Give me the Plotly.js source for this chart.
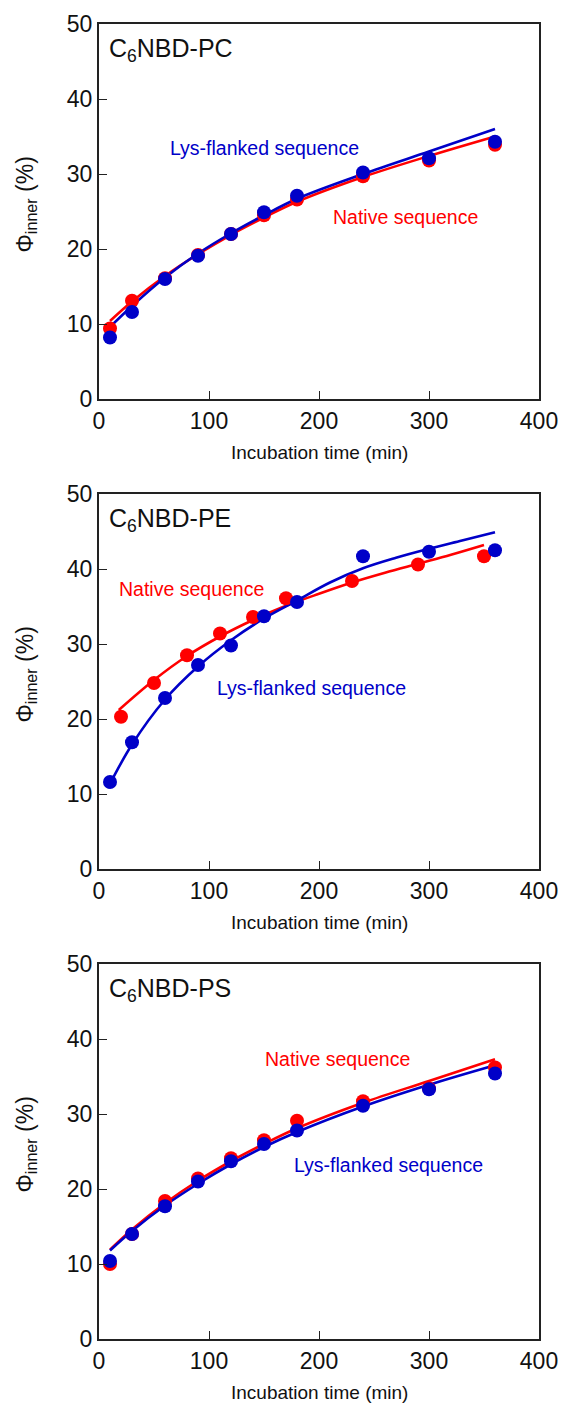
<!DOCTYPE html>
<html>
<head>
<meta charset="utf-8">
<script src="https://cdn.plot.ly/plotly-3.0.1.min.js"></script>
<style>
html,body{margin:0;padding:0;background:#fff;}
#chart{width:561px;height:1408px;}
</style>
</head>
<body>
<div id="chart"></div>
<script>
// ---- Data ----
const panelNames = ["C<sub>6</sub>NBD-PC", "C<sub>6</sub>NBD-PE", "C<sub>6</sub>NBD-PS"];
const xTitle = "Incubation time (min)";
const yTitle = "Φ<sub>inner</sub> (%)";
const nativeLabel = "Native sequence";
const lysLabel = "Lys-flanked sequence";

// PC
const pcNativeT = [10, 30, 60, 90, 120, 150, 180, 240, 300, 360];
const pcNativeY = [9.4, 13.1, 16.1, 19.2, 22.0, 24.5, 26.6, 29.7, 31.8, 33.9];
const pcLysT = [10, 30, 60, 90, 120, 150, 180, 240, 300, 360];
const pcLysY = [8.2, 11.6, 16.0, 19.1, 22.0, 24.9, 27.1, 30.2, 32.1, 34.3];
const pcNativeFitT = [10, 30, 60, 90, 120, 150, 180, 240, 300, 360];
const pcNativeFitY = [10.4, 13.0, 16.4, 19.3, 21.9, 24.2, 26.3, 29.6, 32.4, 35.0];
const pcLysFitT = [10, 30, 60, 90, 120, 150, 180, 240, 300, 360];
const pcLysFitY = [9.6, 12.4, 16.2, 19.4, 22.1, 24.5, 26.7, 30.0, 33.0, 36.0];

// PE
const peNativeT = [20, 50, 80, 110, 140, 170, 230, 290, 350];
const peNativeY = [20.3, 24.8, 28.5, 31.4, 33.6, 36.1, 38.4, 40.6, 41.7];
const peLysT = [10, 30, 60, 90, 120, 150, 180, 240, 300, 360];
const peLysY = [11.6, 16.9, 22.8, 27.2, 29.8, 33.7, 35.6, 41.7, 42.3, 42.5];
const peNativeFitT = [18, 50, 80, 110, 140, 170, 200, 230, 260, 290, 320, 350];
const peNativeFitY = [21.2, 25.2, 28.4, 31.0, 33.2, 35.1, 36.7, 38.2, 39.5, 40.7, 41.9, 43.2];
const peLysFitT = [8, 30, 60, 90, 120, 150, 180, 210, 240, 270, 300, 330, 360];
const peLysFitY = [10.8, 16.6, 22.6, 27.0, 30.5, 33.4, 35.8, 38.2, 40.1, 41.5, 42.7, 43.8, 44.9];

// PS
const psNativeT = [10, 30, 60, 90, 120, 150, 180, 240, 300, 360];
const psNativeY = [10.0, 14.0, 18.4, 21.4, 24.1, 26.5, 29.1, 31.7, 33.4, 36.2];
const psLysT = [10, 30, 60, 90, 120, 150, 180, 240, 300, 360];
const psLysY = [10.4, 14.0, 17.7, 21.0, 23.7, 26.0, 27.8, 31.1, 33.3, 35.4];
const psNativeFitT = [10, 30, 60, 90, 120, 150, 180, 240, 300, 360];
const psNativeFitY = [11.9, 14.6, 18.1, 21.1, 23.7, 26.0, 28.1, 31.5, 34.4, 37.3];
const psLysFitT = [10, 30, 60, 90, 120, 150, 180, 240, 300, 360];
const psLysFitY = [11.8, 14.4, 17.8, 20.7, 23.3, 25.6, 27.6, 31.0, 33.9, 36.5];

const xTickVals = [0, 100, 200, 300, 400];
const yTickVals = [0, 10, 20, 30, 40, 50];

// ---- Styling / layout ----
const W = 561, H = 1408;
const RED = "#ff0000", BLUE = "#0000c8";
const FONT = "Liberation Sans, Arial, sans-serif";
const px = v => v / W;
const py = v => 1 - v / H;

const panels = [
  {top: 24, bottom: 399,
   nT: pcNativeT, nY: pcNativeY, lT: pcLysT, lY: pcLysY,
   nfT: pcNativeFitT, nfY: pcNativeFitY, lfT: pcLysFitT, lfY: pcLysFitY,
   nLab: [331, 217], lLab: [168, 148]},
  {top: 494, bottom: 869,
   nT: peNativeT, nY: peNativeY, lT: peLysT, lY: peLysY,
   nfT: peNativeFitT, nfY: peNativeFitY, lfT: peLysFitT, lfY: peLysFitY,
   nLab: [117, 589], lLab: [215, 688]},
  {top: 964, bottom: 1339,
   nT: psNativeT, nY: psNativeY, lT: psLysT, lY: psLysY,
   nfT: psNativeFitT, nfY: psNativeFitY, lfT: psLysFitT, lfY: psLysFitY,
   nLab: [263, 1059], lLab: [292, 1165]}
];

const traces = [];
const layout = {
  width: W, height: H,
  margin: {l: 0, r: 0, t: 0, b: 0},
  paper_bgcolor: "#fff", plot_bgcolor: "#fff",
  showlegend: false,
  font: {family: FONT, color: "#111"},
  annotations: []
};

panels.forEach((p, i) => {
  const xa = i === 0 ? "x" : "x" + (i + 1);
  const ya = i === 0 ? "y" : "y" + (i + 1);
  const xk = i === 0 ? "xaxis" : "xaxis" + (i + 1);
  const yk = i === 0 ? "yaxis" : "yaxis" + (i + 1);
  traces.push({x: p.nfT, y: p.nfY, xaxis: xa, yaxis: ya, mode: "lines",
    line: {color: RED, width: 2.6, shape: "spline"}, hoverinfo: "skip"});
  traces.push({x: p.lfT, y: p.lfY, xaxis: xa, yaxis: ya, mode: "lines",
    line: {color: BLUE, width: 2.6, shape: "spline"}, hoverinfo: "skip"});
  traces.push({x: p.nT, y: p.nY, xaxis: xa, yaxis: ya, mode: "markers",
    marker: {color: RED, size: 14}, hoverinfo: "skip"});
  traces.push({x: p.lT, y: p.lY, xaxis: xa, yaxis: ya, mode: "markers",
    marker: {color: BLUE, size: 14}, hoverinfo: "skip"});

  layout[xk] = {
    domain: [px(99), px(539)], anchor: ya, range: [0, 400],
    tickvals: xTickVals, ticks: "inside", ticklen: 8, tickwidth: 1, tickcolor: "#222",
    showline: true, linecolor: "#222", linewidth: 2, mirror: true,
    showgrid: false, zeroline: false, fixedrange: true,
    tickfont: {size: 23, family: FONT, color: "#111"}
  };
  layout[yk] = {
    domain: [py(p.bottom), py(p.top)], anchor: xa, range: [0, 50],
    tickvals: yTickVals, ticks: "inside", ticklen: 8, tickwidth: 1, tickcolor: "#222",
    showline: true, linecolor: "#222", linewidth: 2, mirror: true,
    showgrid: false, zeroline: false, fixedrange: true,
    tickfont: {size: 23, family: FONT, color: "#111"}
  };

  const mid = (p.top + p.bottom) / 2;
  layout.annotations.push(
    {xref: "paper", yref: "paper", x: px(107), y: py(p.top + 26), xanchor: "left", yanchor: "middle",
     text: panelNames[i], showarrow: false, font: {size: 25, family: FONT, color: "#111"}},
    {xref: "paper", yref: "paper", x: px(26), y: py(mid - 7), xanchor: "center", yanchor: "middle",
     text: yTitle, textangle: -90, showarrow: false, font: {size: 23, family: FONT, color: "#111"}},
    {xref: "paper", yref: "paper", x: px(319), y: py(p.bottom + 53), xanchor: "center", yanchor: "middle",
     text: xTitle, showarrow: false, font: {size: 19, family: FONT, color: "#111"}},
    {xref: "paper", yref: "paper", x: px(p.nLab[0]), y: py(p.nLab[1]), xanchor: "left", yanchor: "middle",
     text: nativeLabel, showarrow: false, font: {size: 19.5, family: FONT, color: RED}},
    {xref: "paper", yref: "paper", x: px(p.lLab[0]), y: py(p.lLab[1]), xanchor: "left", yanchor: "middle",
     text: lysLabel, showarrow: false, font: {size: 19.5, family: FONT, color: BLUE}}
  );
});

Plotly.newPlot("chart", traces, layout, {staticPlot: true, displayModeBar: false});
</script>
</body>
</html>
